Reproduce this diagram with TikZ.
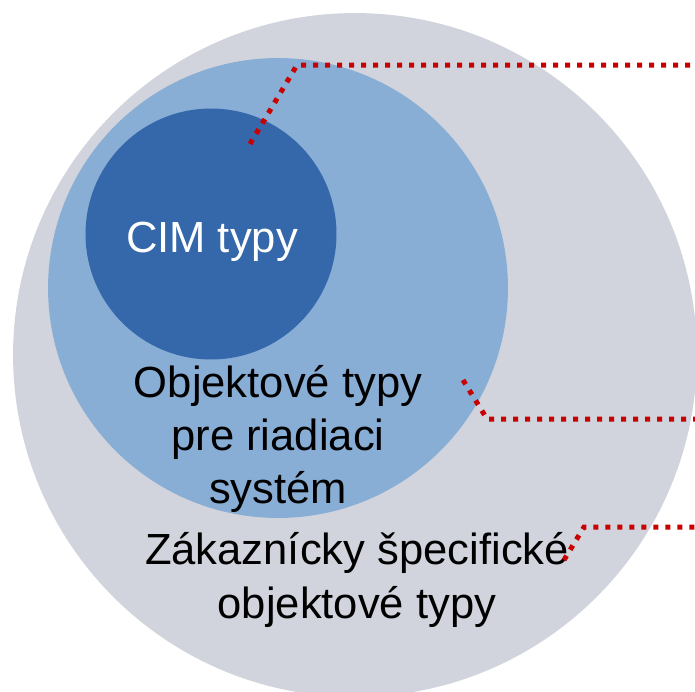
\documentclass[tikz,border=0pt]{standalone}
\usepackage{fontspec}
\setmainfont{Liberation Sans}
\definecolor{greyring}{RGB}{209,212,220}
\definecolor{lightblue}{RGB}{137,174,214}
\definecolor{darkblue}{RGB}{53,103,171}
\definecolor{leadred}{RGB}{200,0,0}
\begin{document}
\begin{tikzpicture}[x=0.02cm,y=-0.02cm,
  disc/.style={circle,inner sep=0pt,draw=none},
  label/.style={align=center,font=\fontsize{24.8}{30.4}\selectfont},
  leader/.style={leadred,line width=0.1cm,dash pattern=on 0.1cm off 0.14cm}]
   \clip (0,0) rectangle (695,691);
   \node[disc,fill=greyring,minimum size=13.68cm] (outer) at (355,355) {};
   \node[disc,fill=lightblue,minimum size=9.2cm] (middle) at (278,288) {};
   \node[disc,fill=darkblue,minimum size=5.02cm] (inner) at (211,234) {};
	 \node[label,text=white,anchor=base] (cim) at (212,252) {CIM typy};
	 \node[label,anchor=center] (obj) at (278,439) {Objektové typy\\pre riadiaci\\systém};
	 \node[label,anchor=center] (zak) at (357,580) {Zákaznícky špecifické\\objektové typy};
	 % leaders to the right
	 \coordinate (l1a) at (250,144);
	 \coordinate (l1b) at (297,65);
	 \coordinate (l1c) at (700,65);
	 \coordinate (l2a) at (463,380);
	 \coordinate (l2b) at (487,419);
	 \coordinate (l2c) at (700,419);
	 \coordinate (l3a) at (564,560);
	 \coordinate (l3b) at (584,527);
	 \coordinate (l3c) at (700,527);
	 \draw[leader] (l1a) -- (l1b) -- (l1c);
	 \draw[leader] (l2a) -- (l2b) -- (l2c);
	 \draw[leader] (l3a) -- (l3b) -- (l3c);
\end{tikzpicture}
\end{document}
